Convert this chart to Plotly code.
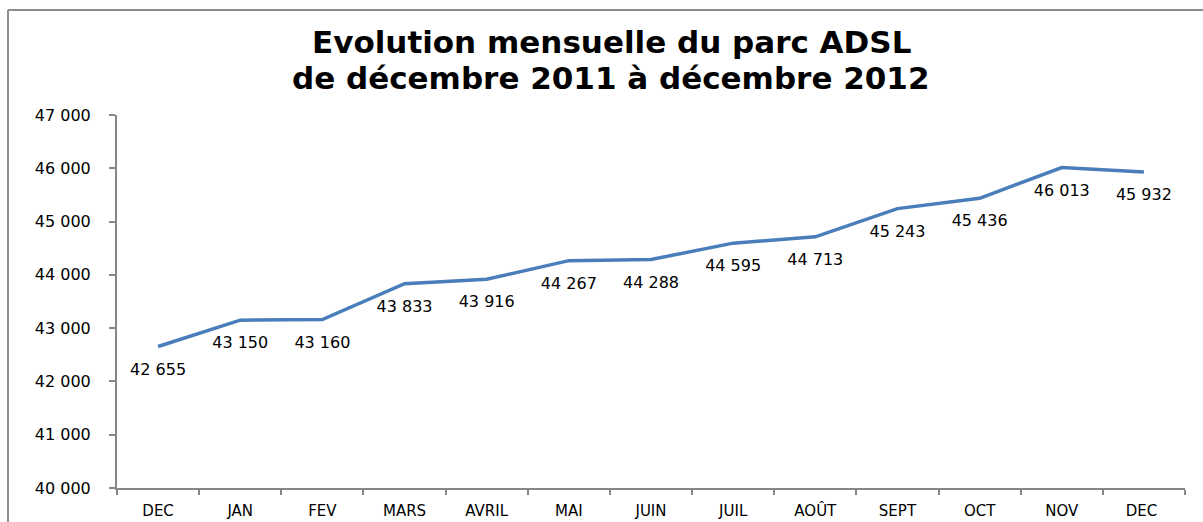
import plotly.graph_objects as go

months = ["DEC", "JAN", "FEV", "MARS", "AVRIL", "MAI", "JUIN", "JUIL", "AOÛT", "SEPT", "OCT", "NOV", "DEC "]
parc_adsl = [42655, 43150, 43160, 43833, 43916, 44267, 44288, 44595, 44713, 45243, 45436, 46013, 45932]
title_lines = ["Evolution mensuelle du parc ADSL", "de décembre 2011 à décembre 2012"]

W, H = 1203, 522
ML, MR, MT, MB = 117, 18, 115, 34
pw, ph = W - ML - MR, H - MT - MB

def px2paper_x(px):
    return (px - ML) / pw

def px2paper_y(py):
    return (H - MB - py) / ph

labels = [f"{v:,}".replace(",", " ") for v in parc_adsl]

fig = go.Figure(go.Scatter(
    x=months, y=parc_adsl, mode="lines+markers+text",
    line=dict(color="#4A7EBB", width=3.5),
    marker=dict(size=24, color="rgba(0,0,0,0)"),
    text=labels, textposition="bottom center",
    textfont=dict(family="DejaVu Sans", size=16, color="#000000"),
    cliponaxis=False, hoverinfo="skip",
))

axis_color = "#868686"
annotations = [
    dict(text=t, xref="paper", yref="paper", x=px2paper_x(611), y=px2paper_y(yc),
         xanchor="center", yanchor="middle", showarrow=False,
         font=dict(family="DejaVu Sans", size=31, color="#000000", weight="bold"))
    for t, yc in zip(title_lines, [42, 78])
]

fig.update_layout(
    width=W, height=H,
    margin=dict(l=ML, r=MR, t=MT, b=MB, autoexpand=False),
    paper_bgcolor="white", plot_bgcolor="white",
    separators=". ",
    showlegend=False,
    annotations=annotations,
    xaxis=dict(type="category", range=[-0.5, 12.5], showgrid=False, zeroline=False,
               showline=True, linecolor=axis_color, linewidth=2, automargin=False,
               ticks="outside", tickson="boundaries", ticklen=5, tickcolor=axis_color, tickwidth=2,
               ticklabelstandoff=8,
               tickfont=dict(family="DejaVu Sans", size=15, color="#000000"), fixedrange=True),
    yaxis=dict(range=[40000, 47000], dtick=1000, tickformat=",d", showgrid=False, zeroline=False,
               showline=True, linecolor=axis_color, linewidth=2, automargin=False,
               ticks="outside", ticklen=6, tickcolor=axis_color, tickwidth=2,
               ticklabelstandoff=15,
               tickfont=dict(family="DejaVu Sans", size=16, color="#000000"), fixedrange=True),
    shapes=[
        dict(type="line", xref="paper", yref="paper", x0=px2paper_x(8), x1=px2paper_x(8),
             y0=px2paper_y(10), y1=px2paper_y(H), line=dict(color="#8C8C8C", width=2)),
        dict(type="line", xref="paper", yref="paper", x0=px2paper_x(8), x1=px2paper_x(W),
             y0=px2paper_y(10), y1=px2paper_y(10), line=dict(color="#8C8C8C", width=2)),
    ],
)

fig.write_html("out.html", config={"displayModeBar": False},
               post_script="document.body.style.margin='0';document.body.style.overflow='hidden';")
